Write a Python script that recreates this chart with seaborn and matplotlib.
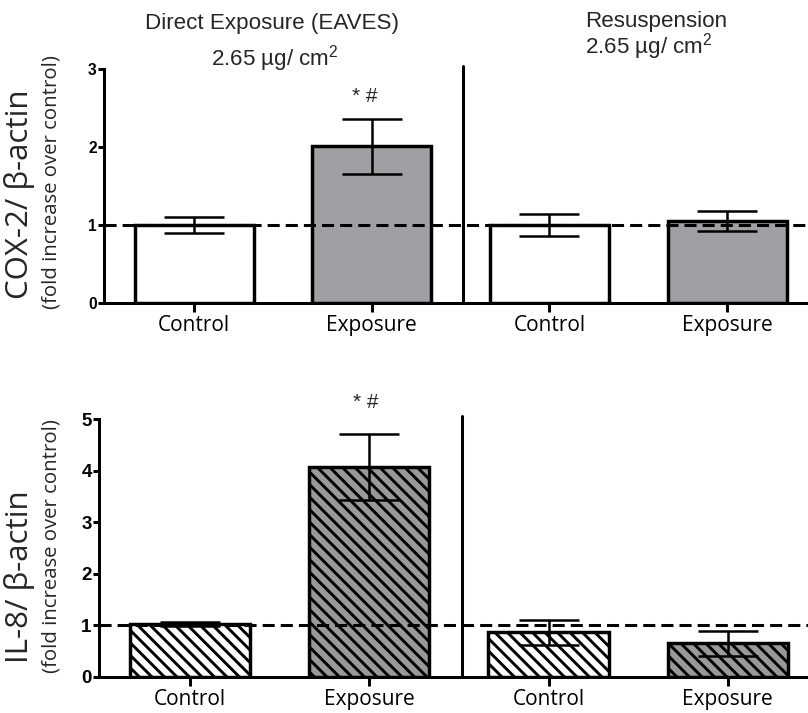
import numpy as np
import pandas as pd
import matplotlib
matplotlib.use("Agg")
import matplotlib.pyplot as plt
import seaborn as sns

# ---------------- data ----------------
keys = ["Direct Control", "Direct Exposure", "Resusp Control", "Resusp Exposure"]
tick_labels = ["Control", "Exposure", "Control", "Exposure"]
cox2_mean = [1.00, 2.01, 1.00, 1.05]
cox2_sem = [0.10, 0.35, 0.145, 0.125]
il8_mean = [1.02, 4.07, 0.86, 0.65]
il8_sem = [0.04, 0.64, 0.24, 0.245]
top_colors = ["#ffffff", "#a0a0a4", "#ffffff", "#a0a0a4"]
bottom_colors = ["#ffffff", "#999999", "#ffffff", "#999999"]

DPI = 75
W, H = 808, 713

sns.set_theme(style="white")
plt.rcParams["font.family"] = ["Open Sans", "DejaVu Sans"]
plt.rcParams["hatch.linewidth"] = 2.8
plt.rcParams["mathtext.fontset"] = "custom"
plt.rcParams["mathtext.rm"] = "Liberation Sans"
plt.rcParams["mathtext.it"] = "Liberation Sans"

fig = plt.figure(figsize=(W / DPI, H / DPI), dpi=DPI)
fig.patch.set_facecolor("white")


def px(x, y):
    return x / W, 1 - y / H


def panel(rect, means, sems, colors, ylim, yticks, hatch, xlim, ytick_fs):
    ax = fig.add_axes(rect)
    df = pd.DataFrame({"group": keys, "value": means})
    sns.barplot(data=df, x="group", y="value", hue="group", order=keys,
                hue_order=keys, palette=colors, width=0.67, edgecolor="black",
                linewidth=3.3, errorbar=None, legend=False, ax=ax, zorder=1,
                saturation=1)
    if hatch:
        for p in ax.patches:
            p.set_hatch(hatch)
    ax.axhline(1, color="black", lw=2.9, ls=(0, (4.0, 2.0)), zorder=3)
    ax.errorbar(x=np.arange(len(keys)), y=means, yerr=sems, fmt="none",
                ecolor="black", elinewidth=2.4, capsize=29, capthick=2.4,
                zorder=4)
    ax.axvline(1.515, ymin=0, ymax=1.012, color="black", lw=2.9,
               clip_on=False, zorder=5)
    ax.set_xlim(*xlim)
    ax.set_ylim(*ylim)
    ax.set_yticks(yticks)
    ax.set_yticklabels([str(t) for t in yticks], fontfamily="Liberation Sans",
                       fontweight="bold", fontsize=ytick_fs)
    ax.set_xticks(range(len(keys)))
    ax.set_xticklabels(tick_labels, fontsize=20, fontfamily="Open Sans")
    ax.tick_params(axis="y", direction="out", length=6, width=2.9, pad=1,
                   left=True, colors="black")
    ax.tick_params(axis="x", direction="out", length=8.5, width=2.9, pad=3,
                   bottom=True, colors="black")
    for s in ["top", "right"]:
        ax.spines[s].set_visible(False)
    for s in ["left", "bottom"]:
        ax.spines[s].set_linewidth(2.9)
        ax.spines[s].set_color("black")
    ax.set_xlabel("")
    ax.set_ylabel("")
    ax.set_facecolor("none")
    ax.grid(False)
    return ax


ax1 = panel([104 / W, 1 - 302.7 / H, 704 / W, 233.4 / H], cox2_mean, cox2_sem,
            top_colors, (0, 3), [0, 1, 2, 3], None, (-0.507, 3.455), 15)
ax2 = panel([99 / W, 1 - 676.7 / H, 709 / W, 257.4 / H], il8_mean, il8_sem,
            bottom_colors, (0, 5), [0, 1, 2, 3, 4, 5], "\\\\", (-0.507, 3.447), 18)

# y labels
fig.text(*px(20, 194), "COX-2/ β-actin", rotation=90, ha="center", va="center",
         fontsize=30, fontfamily="Open Sans")
fig.text(*px(52, 182), "(fold increase over control)", rotation=90, ha="center",
         va="center", fontsize=19.5, fontfamily="Open Sans")
fig.text(*px(20, 577), "IL-8/ β-actin", rotation=90, ha="center", va="center",
         fontsize=30, fontfamily="Open Sans")
fig.text(*px(52, 546), "(fold increase over control)", rotation=90, ha="center",
         va="center", fontsize=19.5, fontfamily="Open Sans")

# titles
fig.text(*px(272, 24), "Direct Exposure (EAVES)", ha="center", va="center",
         fontsize=21.5, fontfamily="Liberation Sans")
fig.text(*px(275, 59), "2.65 µg/ cm$^{2}$", ha="center", va="center",
         fontsize=21.5, fontfamily="Liberation Sans")
fig.text(*px(585, 21), "Resuspension", ha="left", va="center",
         fontsize=21.5, fontfamily="Liberation Sans")
fig.text(*px(585, 47), "2.65 µg/ cm$^{2}$", ha="left", va="center",
         fontsize=21.5, fontfamily="Liberation Sans")

# significance marks
fig.text(*px(365, 96), "* #", ha="center", va="center", fontsize=20,
         fontfamily="Liberation Sans")
fig.text(*px(366, 402), "* #", ha="center", va="center", fontsize=20,
         fontfamily="Liberation Sans")

fig.savefig("out.png", dpi=DPI, facecolor="white")
